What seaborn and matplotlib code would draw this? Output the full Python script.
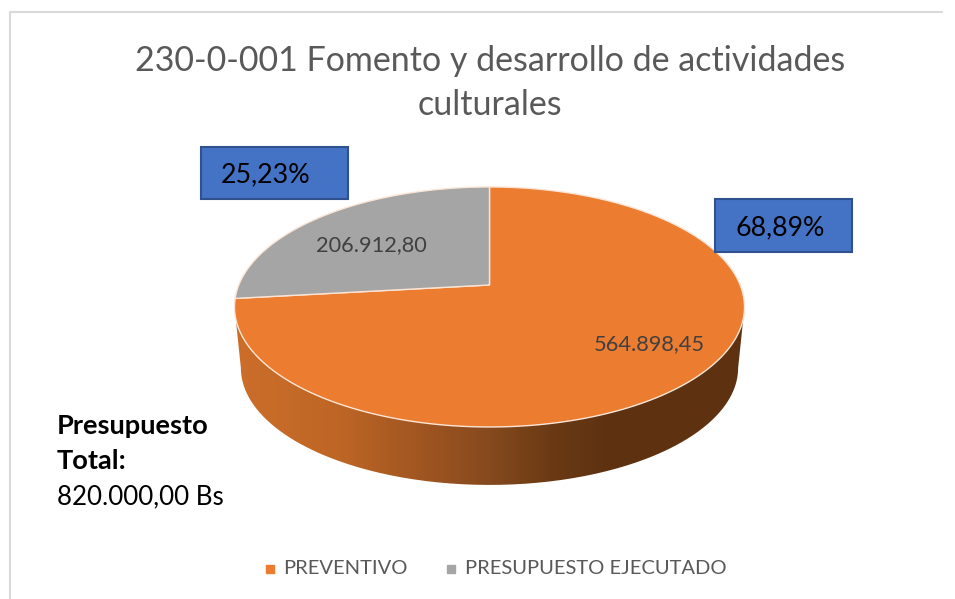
import numpy as np
import matplotlib
matplotlib.use('Agg')
import matplotlib.pyplot as plt
import matplotlib.transforms as mtransforms
from matplotlib.path import Path
from matplotlib.patches import PathPatch, Rectangle
from matplotlib.colors import LinearSegmentedColormap
import seaborn as sns

sns.set_theme(style="white")
plt.rcParams['font.family'] = ['Lato', 'DejaVu Sans']

# Datos
categorias = ['PREVENTIVO', 'PRESUPUESTO EJECUTADO']
montos = [564898.45, 206912.80]
etiquetas_monto = ['564.898,45', '206.912,80']
etiquetas_pct = ['68,89%', '25,23%']
colores = ['#EB7C30', '#A5A5A5']
titulo = '230-0-001 Fomento y desarrollo de actividades\nculturales'
total_lineas = ['Presupuesto', 'Total:', '820.000,00 Bs']

W, H = 955, 599

# geometria del disco 3D (en pixeles de la imagen)
CX, CY = 489.5, 285
K = 0.183
SY = 116
SX = 250.7
DEPTH = 58


class Tilt(mtransforms.Transform):
    # proyeccion en perspectiva del circulo unidad
    input_dims = 2
    output_dims = 2

    def __init__(self, scale=1.0, drop=0.0):
        super().__init__()
        self.scale = scale
        self.drop = drop

    def transform_non_affine(self, values):
        xy = np.asarray(values)
        d = 1 + K * xy[:, 1]
        return np.column_stack([CX + self.scale * SX * xy[:, 0] / d,
                                CY + self.drop - self.scale * SY * xy[:, 1] / d])


fig = plt.figure(figsize=(W / 100, H / 100), dpi=100, facecolor='white')
ax = fig.add_axes([0, 0, 1, 1])

# pie() da los angulos de las porciones; luego se proyectan con Tilt
wedges, _ = ax.pie(montos, colors=colores, startangle=90, counterclock=False)
ax.set_aspect('auto')
ax.axis('off')

tilt = Tilt()
for w in wedges:
    ang = np.radians(np.linspace(w.theta1, w.theta2, 200))
    sector = np.vstack([[0, 0], np.column_stack([np.cos(ang), np.sin(ang)]), [0, 0]])
    w.set_visible(False)
    ax.add_patch(PathPatch(Path(tilt.transform(sector)), facecolor=w.get_facecolor(),
                           edgecolor='#FBE5D6', linewidth=1.0, zorder=3))

# pared lateral con degradado (entre los extremos izquierdo y derecho de la elipse)
t = np.linspace(np.pi + np.arcsin(K), 2 * np.pi - np.arcsin(K), 200)
circ = np.column_stack([np.cos(t), np.sin(t)])
arriba = tilt.transform(circ)
abajo = Tilt(scale=0.975, drop=DEPTH + 3.5).transform(circ)
borde = np.vstack([arriba, abajo[::-1], arriba[:1]])
pared = PathPatch(Path(borde), facecolor='none', edgecolor='none')
ax.add_patch(pared)
cmap = LinearSegmentedColormap.from_list('pared', [
    (0.00, '#CC6E2A'), (0.20, '#BE6626'), (0.40, '#9A5220'), (0.50, '#854A1E'),
    (0.62, '#6B3A14'), (0.72, '#5F3312'), (1.00, '#5E3211')])
im = ax.imshow(np.linspace(0, 1, 256)[None, :], cmap=cmap, aspect='auto',
               extent=[235, 744, 490, 300], zorder=2)
im.set_clip_path(pared)
ax.set_xlim(0, W)
ax.set_ylim(H, 0)

# marco del grafico
ax.plot([10, 10, 942], [599, 12, 12], color='#D9D9D9', lw=1.5, zorder=1)

# titulo
ax.text(490, 83, titulo, ha='center', va='center', fontsize=24.5, color='#595959',
        linespacing=1.45, zorder=5)

# etiquetas de monto
ax.text(371, 245, etiquetas_monto[1], ha='center', va='center', fontsize=15.7, color='#404040', zorder=5)
ax.text(649, 344, etiquetas_monto[0], ha='center', va='center', fontsize=15.7, color='#404040', zorder=5)

# cajas azules
for (x0, y0, x1, y1), s in zip([(715, 199, 852, 252), (201, 147, 348, 199)], etiquetas_pct):
    ax.add_patch(Rectangle((x0, y0), x1 - x0, y1 - y0, facecolor='#4472C4',
                           edgecolor='#2F528F', linewidth=1.5, zorder=4))
    ax.text(x0 + 20, (y0 + y1) / 2 + 2, s, ha='left', va='center', fontsize=19.3, color='black', zorder=5)

# presupuesto total
ax.text(57, 426, total_lineas[0], ha='left', va='center', fontsize=19.6, fontweight='bold', color='black')
ax.text(57, 461, total_lineas[1], ha='left', va='center', fontsize=19.6, fontweight='bold', color='black')
ax.text(57, 497, total_lineas[2], ha='left', va='center', fontsize=18.7, color='black')

# leyenda
for x_m, x_t, c, s in zip([270, 451], [283, 465], colores, categorias):
    ax.plot([x_m], [569], marker='s', ms=5.5, color=c, ls='none', zorder=5)
    ax.text(x_t, 568.5, s, ha='left', va='center', fontsize=14.5, color='#595959', zorder=5)

fig.savefig('out.png', dpi=100)
